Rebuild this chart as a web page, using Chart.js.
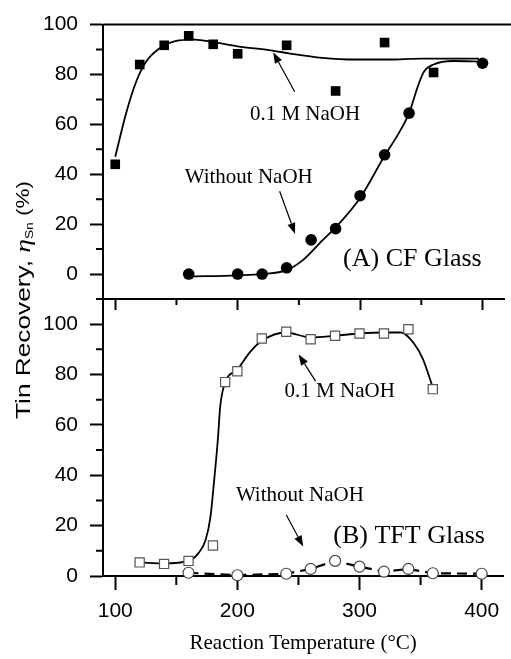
<!DOCTYPE html>
<html>
<head>
<meta charset="utf-8">
<script src="https://cdn.jsdelivr.net/npm/chart.js@4.4.1/dist/chart.umd.min.js"></script>
<style>
  body { margin: 0; background: #fff; }
  #wrap { position: relative; width: 511px; height: 659px; }
  canvas { position: absolute; left: 0; top: 0; }
</style>
</head>
<body>
<div id="wrap">
  <canvas id="cfChart" width="511" height="659"></canvas>
  <canvas id="tftChart" width="511" height="659"></canvas>
</div>
<script>
// (A) CF glass, measured points
const cfNaohT = [100, 120, 140, 160, 180, 200, 240, 280, 320, 360];
const cfNaohEta = [44, 84, 91.7, 95.5, 92.1, 88.3, 91.7, 73.4, 92.8, 80.8];
const cfPlainT = [160, 200, 220, 240, 260, 280, 300, 320, 340, 400];
const cfPlainEta = [0, 0, 0, 2.5, 13.7, 18.2, 31.4, 47.8, 64.5, 84.5];
// (A) fitted curves
const cfNaohFitT = [100, 109, 117, 125, 136, 149, 165, 180, 200, 227, 243, 269, 296, 323, 350, 397];
const cfNaohFitEta = [47, 64.7, 77, 85, 90.4, 93.4, 94, 93, 91.3, 89.7, 88.4, 86.7, 86, 86, 86.4, 86.4];
const cfPlainFitT = [160, 200, 220, 240, 253, 269, 280, 300, 320, 331, 340, 347, 352, 360, 376, 400];
const cfPlainFitEta = [-1, -0.5, 0, 1.6, 5.5, 13.4, 18.7, 30.5, 47.4, 56, 64.5, 75, 81, 84, 85.4, 85.1];

// (B) TFT glass, measured points
const tftNaohT = [120, 140, 160, 180, 190, 200, 220, 240, 260, 280, 300, 320, 340, 360];
const tftNaohEta = [5.4, 4.8, 6.0, 12.1, 77, 81.3, 94.3, 97, 94, 95.4, 96.3, 96.3, 98, 74.2];
const tftPlainT = [160, 200, 240, 260, 280, 300, 320, 340, 360, 400];
const tftPlainEta = [1.3, 0.3, 0.9, 2.8, 6, 3.7, 1.7, 2.8, 1.1, 0.9];
// (B) fitted curve
const tftNaohFitT = [120, 140, 160, 168, 174, 178, 181, 184, 186, 190, 200, 210, 220, 240, 260, 280, 300, 320, 334, 344, 352, 360];
const tftNaohFitEta = [5.4, 5, 6, 9, 14.3, 23.6, 38, 54, 67.5, 76.8, 82, 88.7, 93.4, 96.7, 94.7, 95.4, 96.3, 96.7, 96.7, 92.7, 86, 74.8];

// ticks
const xMajor = [100, 200, 300, 400];
const xMinor = [150, 250, 350];
const cfMajor = [0, 20, 40, 60, 80, 100];
const cfMinor = [-10, 10, 30, 50, 70, 90];
const tftMajor = [0, 20, 40, 60, 80, 100];
const tftMinor = [10, 30, 50, 70, 90, 110];

function pts(xs, ys) {
  return xs.map((v, i) => ({ x: v, y: ys[i] }));
}

const tickFont = { family: '"Liberation Sans", Arial, sans-serif', size: 21 };

// extra drawing: minor ticks, top frame, labels with arrows, y title
const decor = {
  id: 'decor',
  afterDraw(chart, args, o) {
    const { ctx, chartArea: a } = chart;
    const x = chart.scales.x, y = chart.scales.y;
    ctx.save();
    ctx.strokeStyle = '#000';
    ctx.lineWidth = 2;
    ctx.beginPath();
    o.xMinor.forEach(v => {
      const px = x.getPixelForValue(v);
      ctx.moveTo(px, a.bottom);
      ctx.lineTo(px, a.bottom + o.xMinorLen);
    });
    o.yMinor.forEach(v => {
      const py = y.getPixelForValue(v);
      ctx.moveTo(a.left - 7, py);
      ctx.lineTo(a.left, py);
    });
    if (o.topLine) {
      ctx.moveTo(a.left, a.top);
      ctx.lineTo(chart.width, a.top);
    }
    ctx.stroke();

    ctx.fillStyle = '#000';
    ctx.textAlign = 'center';
    ctx.textBaseline = 'middle';
    o.notes.forEach(n => {
      ctx.font = n.size + 'px "Liberation Serif", "Times New Roman", serif';
      ctx.fillText(n.text, x.getPixelForValue(n.x), y.getPixelForValue(n.y));
    });

    ctx.lineWidth = 1.2;
    o.arrows.forEach(ar => {
      const x1 = x.getPixelForValue(ar[0]), y1 = y.getPixelForValue(ar[1]);
      const x2 = x.getPixelForValue(ar[2]), y2 = y.getPixelForValue(ar[3]);
      const ang = Math.atan2(y2 - y1, x2 - x1);
      const hl = 11, hw = 4;
      const bx = x2 - hl * Math.cos(ang), by = y2 - hl * Math.sin(ang);
      ctx.beginPath();
      ctx.moveTo(x1, y1);
      ctx.lineTo(bx, by);
      ctx.stroke();
      ctx.beginPath();
      ctx.moveTo(x2, y2);
      ctx.lineTo(bx + hw * Math.sin(ang), by - hw * Math.cos(ang));
      ctx.lineTo(bx - hw * Math.sin(ang), by + hw * Math.cos(ang));
      ctx.closePath();
      ctx.fill();
    });

    if (o.yTitle) {
      // the original axis title is drawn stretched along its length
      ctx.translate(23, 300);
      ctx.rotate(-Math.PI / 2);
      ctx.scale(1.25, 1);
      ctx.textAlign = 'left';
      ctx.textBaseline = 'alphabetic';
      const parts = [
        { t: 'Tin Recovery, ', f: '21px "Liberation Sans", Arial, sans-serif', dy: 0 },
        { t: 'η', f: 'italic 22px "Liberation Serif", serif', dy: 0 },
        { t: 'Sn', f: '11px "Liberation Sans", Arial, sans-serif', dy: 3 },
        { t: ' (%)', f: '18px "Liberation Sans", Arial, sans-serif', dy: -1 }
      ];
      let total = 0;
      parts.forEach(p => { ctx.font = p.f; p.w = ctx.measureText(p.t).width; total += p.w; });
      let cx = -total / 2;
      parts.forEach(p => {
        ctx.font = p.f;
        ctx.fillText(p.t, cx, 7 + p.dy);
        cx += p.w;
      });
    }
    ctx.restore();
  }
};

function makeChart(id, datasets, yMin, yMax, yMajor, yMinor, bottomPanel, notes, arrows) {
  return new Chart(document.getElementById(id), {
    type: 'scatter',
    data: { datasets: datasets },
    plugins: [decor],
    options: {
      responsive: false,
      animation: false,
      events: [],
      layout: { padding: bottomPanel ? { top: 299, bottom: 0, left: 0, right: 0 } : { top: 21, bottom: 347, left: 0, right: 0 } },
      plugins: {
        legend: { display: false },
        tooltip: { enabled: false },
        decor: {
          xMinor: xMinor,
          xMinorLen: bottomPanel ? 9 : 6,
          yMinor: yMinor,
          topLine: !bottomPanel,
          yTitle: bottomPanel,
          notes: notes,
          arrows: arrows
        }
      },
      scales: {
        x: {
          type: 'linear',
          min: 90,
          max: 417.7,
          afterBuildTicks: s => { s.ticks = xMajor.map(v => ({ value: v })); },
          afterFit: s => { s.height = bottomPanel ? 83 : 13; },
          ticks: { display: bottomPanel, font: tickFont, color: '#000', padding: 9, maxRotation: 0, autoSkip: false },
          grid: { drawOnChartArea: false, tickLength: bottomPanel ? 14 : 11, tickWidth: 2, tickColor: '#000' },
          border: { color: '#000', width: 2 },
          title: {
            display: bottomPanel,
            text: 'Reaction Temperature (°C)',
            color: '#000',
            font: { family: '"Liberation Serif", "Times New Roman", serif', size: 21 },
            padding: { top: 0, bottom: 3 }
          }
        },
        y: {
          min: yMin,
          max: yMax,
          afterBuildTicks: s => { s.ticks = yMajor.map(v => ({ value: v })); },
          afterFit: s => { s.width = 103; },
          ticks: { font: tickFont, color: '#000', padding: 12 },
          grid: { drawOnChartArea: false, tickLength: 13, tickWidth: 2, tickColor: '#000' },
          border: { color: '#000', width: 2 }
        }
      }
    }
  });
}

makeChart('cfChart', [
  { data: pts(cfPlainT, cfPlainEta), pointStyle: 'circle', pointRadius: 5.8, backgroundColor: '#000', borderColor: '#000', pointBorderWidth: 0, clip: false },
  { data: pts(cfNaohT, cfNaohEta), pointStyle: 'rect', pointRadius: 6.8, backgroundColor: '#000', borderColor: '#000', pointBorderWidth: 0, clip: false },
  { data: pts(cfNaohFitT, cfNaohFitEta), showLine: true, cubicInterpolationMode: 'monotone', pointRadius: 0, borderColor: '#000', borderWidth: 1.8 },
  { data: pts(cfPlainFitT, cfPlainFitEta), showLine: true, cubicInterpolationMode: 'monotone', pointRadius: 0, borderColor: '#000', borderWidth: 1.8 }
], -10, 100, cfMajor, cfMinor, false,
  [
    { text: '0.1 M NaOH', x: 255, y: 64, size: 21 },
    { text: 'Without NaOH', x: 209, y: 38.6, size: 21 },
    { text: '(A) CF Glass', x: 342.7, y: 5.8, size: 26 }
  ],
  [[246.6, 73.1, 229, 88.9], [234.3, 33.2, 246.9, 16.1]]
);

makeChart('tftChart', [
  { data: pts(tftNaohT, tftNaohEta), pointStyle: 'rect', pointRadius: 6.5, backgroundColor: '#fff', borderColor: '#555', pointBorderWidth: 1.2, clip: false },
  { data: pts(tftPlainT, tftPlainEta), showLine: true, borderDash: [10, 6], borderWidth: 2.2, borderColor: '#000',
    pointStyle: 'circle', pointRadius: 5.5, pointBackgroundColor: '#fff', pointBorderColor: '#444', pointBorderWidth: 1.2, clip: false },
  { data: pts(tftNaohFitT, tftNaohFitEta), showLine: true, cubicInterpolationMode: 'monotone', pointRadius: 0, borderColor: '#000', borderWidth: 1.8 }
], 0, 110, tftMajor, tftMinor, true,
  [
    { text: '0.1 M NaOH', x: 283.8, y: 73.2, size: 21 },
    { text: 'Without NaOH', x: 251.2, y: 31.9, size: 21 },
    { text: '(B) TFT Glass', x: 340.6, y: 15.7, size: 26 }
  ],
  [[264, 77.4, 250.1, 88], [240, 24.3, 253.9, 11.7]]
);
</script>
</body>
</html>
